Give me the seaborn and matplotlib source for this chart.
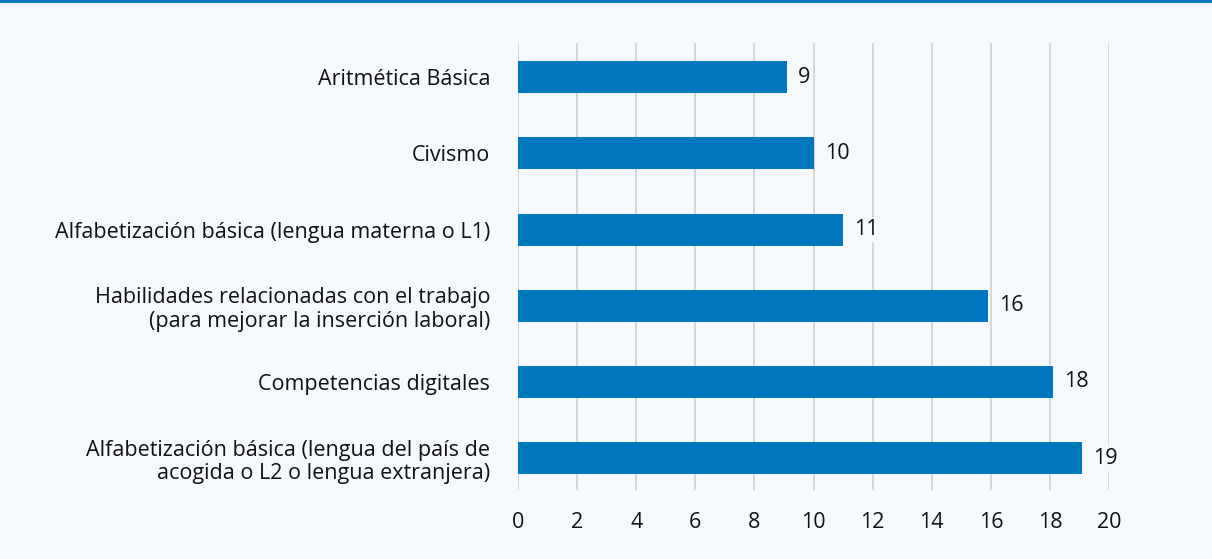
import matplotlib
matplotlib.use("Agg")
import matplotlib.pyplot as plt
import seaborn as sns
import pandas as pd
from matplotlib.patches import Rectangle

categories = [
    "Aritmética Básica",
    "Civismo",
    "Alfabetización básica (lengua materna o L1)",
    "Habilidades relacionadas con el trabajo\n(para mejorar la inserción laboral)",
    "Competencias digitales",
    "Alfabetización básica (lengua del país de\nacogida o L2 o lengua extranjera)",
]
values = [9.1, 10, 11, 15.9, 18.1, 19.1]
labels = ["9", "10", "11", "16", "18", "19"]
xticks = [0, 2, 4, 6, 8, 10, 12, 14, 16, 18, 20]

BG = "#f5f8fd"
BLUE = "#0077be"
FS = 15.5

sns.set_theme(style="white")
plt.rcParams["font.family"] = ["Open Sans", "DejaVu Sans"]

df = pd.DataFrame({"cat": categories, "val": values})

fig = plt.figure(figsize=(12.12, 5.59), dpi=100, facecolor=BG)
ax = fig.add_axes([518/1212, 1-490/559, (1109-518)/1212, (490-43)/559])
ax.set_facecolor(BG)

sns.barplot(data=df, x="val", y="cat", color=BLUE, saturation=1, width=0.42,
            linewidth=0, ax=ax, zorder=3)

ax.set_xlim(0, 20)
ax.set_ylim(5.42, -0.45)
ax.set_xticks(xticks)
ax.set_xticklabels([str(t) for t in xticks])
ax.grid(axis="x", color="#d0d0d0", linewidth=1.2, zorder=0)
ax.grid(axis="y", visible=False)
for s in ax.spines.values():
    s.set_visible(False)
ax.tick_params(axis="x", length=0, pad=16, labelsize=FS, labelcolor="#111111")
ax.tick_params(axis="y", length=0, pad=20, labelsize=FS, labelcolor="#111111")
ax.set_xlabel("")
ax.set_ylabel("")
for lab in ax.get_yticklabels():
    lab.set_horizontalalignment("right")
    lab.set_multialignment("right")
    lab.set_linespacing(1.15)

cont = ax.containers[0]
txts = ax.bar_label(cont, labels=labels, padding=8, fontsize=FS, color="#111111")
for t in txts:
    t.set_bbox(dict(facecolor=BG, edgecolor="none", pad=1.5))
    t.set_zorder(4)

fig.add_artist(Rectangle((0, 1-3/559), 1, 3/559, transform=fig.transFigure,
                         facecolor=BLUE, edgecolor="none"))

fig.savefig("out.png", dpi=100, facecolor=BG)
